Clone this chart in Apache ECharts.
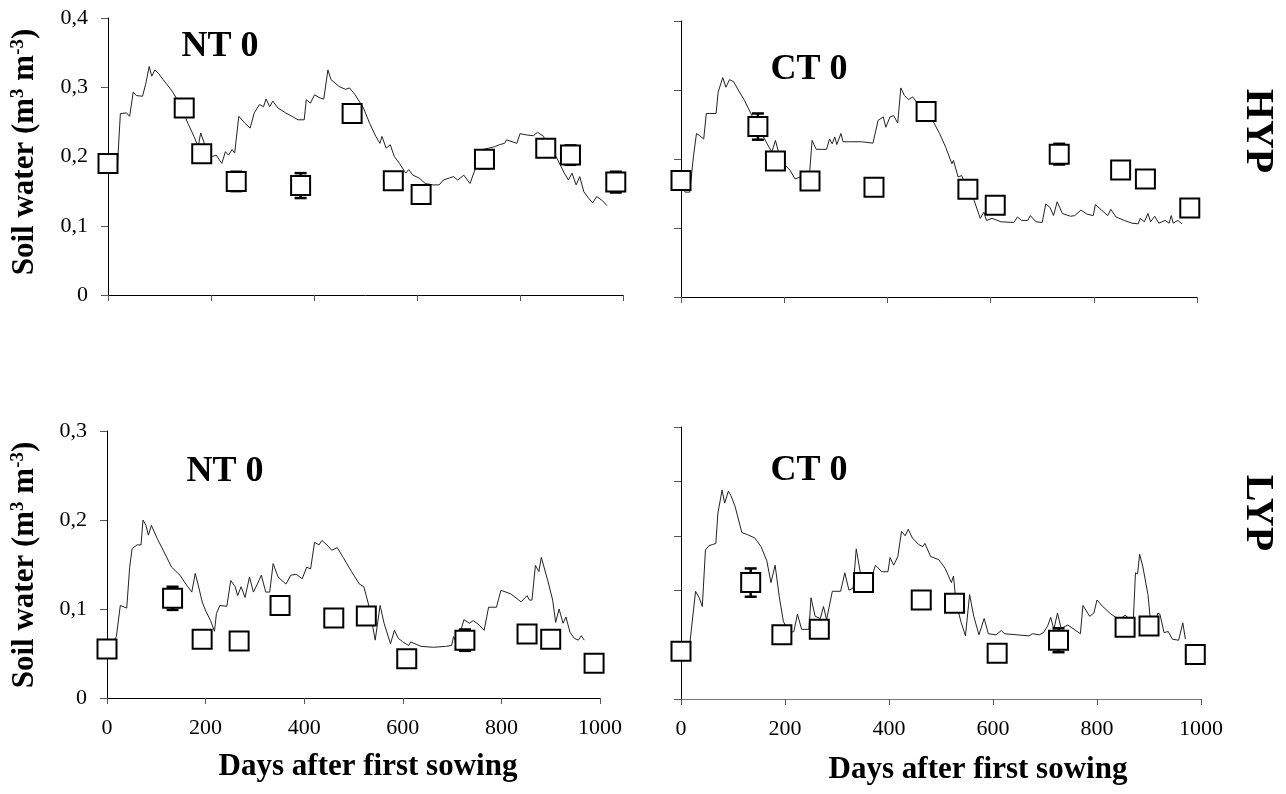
<!DOCTYPE html>
<html>
<head>
<meta charset="utf-8">
<script src="https://cdn.jsdelivr.net/npm/echarts@6/dist/echarts.min.js"></script>
<style>
html,body{margin:0;padding:0;background:#fff;}
#chart{width:1286px;height:794px;}
</style>
</head>
<body>
<div id="chart"></div>
<script>
// ---------- DATA ----------
const xTicks = [0, 200, 400, 600, 800, 1000];

// HYP – NT 0 (top left)
const ntHypObsDays = [0, 148, 182, 249, 374, 474, 554, 608, 731, 850, 898, 986];
const ntHypObsVals = [0.190, 0.270, 0.204, 0.164, 0.158, 0.262, 0.165, 0.145, 0.196, 0.212, 0.202, 0.163];
const ntHypObsErr  = [0, 0, 0, 0.014, 0.018, 0, 0, 0, 0.013, 0, 0.014, 0.015];
const ntHypSim = [[3,0.186],[18,0.183],[24,0.262],[36,0.263],[42,0.258],[49,0.293],[55,0.288],[67,0.287],[73,0.304],[80,0.330],[85,0.316],[91,0.325],[98,0.320],[107,0.311],[123,0.296],[139,0.277],[155,0.248],[167,0.229],[175,0.214],[180,0.234],[187,0.219],[195,0.205],[203,0.200],[210,0.202],[221,0.190],[228,0.207],[234,0.202],[241,0.210],[246,0.205],[254,0.258],[266,0.248],[276,0.241],[284,0.263],[294,0.275],[302,0.272],[307,0.283],[314,0.272],[320,0.280],[330,0.270],[345,0.263],[369,0.253],[381,0.253],[385,0.282],[393,0.277],[401,0.289],[413,0.284],[419,0.283],[427,0.325],[433,0.311],[449,0.301],[461,0.297],[469,0.299],[480,0.289],[496,0.270],[508,0.248],[520,0.229],[528,0.219],[532,0.229],[540,0.212],[548,0.217],[556,0.200],[566,0.190],[578,0.176],[584,0.181],[592,0.173],[604,0.169],[616,0.161],[631,0.159],[643,0.159],[651,0.166],[663,0.169],[671,0.171],[679,0.166],[691,0.173],[703,0.161],[715,0.186],[727,0.210],[739,0.212],[750,0.214],[760,0.217],[770,0.219],[774,0.224],[794,0.219],[800,0.233],[814,0.231],[826,0.230],[834,0.235],[846,0.229],[854,0.210],[870,0.200],[886,0.176],[894,0.166],[901,0.176],[909,0.159],[916,0.171],[924,0.149],[933,0.140],[941,0.133],[949,0.142],[959,0.137],[969,0.129]];

// HYP – CT 0 (top right)
const ctHypObsDays = [0, 149, 183, 250, 374, 475, 556, 609, 733, 852, 900, 986];
const ctHypObsVals = [0.169, 0.247, 0.197, 0.168, 0.159, 0.269, 0.156, 0.133, 0.207, 0.184, 0.171, 0.129];
const ctHypObsErr  = [0, 0.019, 0.012, 0, 0, 0, 0, 0, 0.015, 0, 0, 0];
const ctHypSim = [[2,0.162],[8,0.152],[17,0.152],[24,0.203],[30,0.237],[36,0.234],[44,0.229],[49,0.266],[60,0.266],[68,0.266],[72,0.297],[81,0.318],[87,0.304],[94,0.315],[102,0.312],[111,0.300],[123,0.285],[134,0.268],[151,0.244],[167,0.222],[176,0.210],[183,0.227],[189,0.210],[199,0.193],[211,0.184],[221,0.171],[231,0.174],[242,0.179],[248,0.167],[254,0.227],[262,0.214],[282,0.214],[288,0.229],[293,0.222],[298,0.232],[302,0.221],[310,0.237],[314,0.225],[326,0.225],[350,0.225],[372,0.223],[382,0.256],[392,0.261],[397,0.246],[405,0.261],[412,0.263],[420,0.252],[426,0.303],[433,0.292],[441,0.286],[449,0.290],[461,0.278],[477,0.268],[489,0.254],[501,0.237],[513,0.217],[525,0.193],[528,0.198],[537,0.174],[544,0.176],[556,0.155],[568,0.140],[580,0.114],[587,0.123],[592,0.111],[603,0.114],[620,0.109],[645,0.108],[652,0.116],[660,0.111],[672,0.111],[677,0.118],[688,0.109],[700,0.108],[707,0.135],[715,0.130],[722,0.118],[729,0.138],[739,0.121],[755,0.117],[763,0.118],[775,0.126],[787,0.120],[799,0.118],[803,0.134],[815,0.126],[827,0.118],[833,0.127],[843,0.116],[859,0.111],[874,0.107],[886,0.106],[890,0.114],[898,0.109],[905,0.121],[910,0.109],[918,0.117],[926,0.107],[938,0.111],[946,0.107],[950,0.118],[954,0.107],[963,0.111],[971,0.106]];

// LYP – NT 0 (bottom left)
const ntLypObsDays = [0, 133, 193, 268, 351, 460, 526, 608, 726, 852, 900, 988];
const ntLypObsVals = [0.055, 0.112, 0.066, 0.064, 0.104, 0.090, 0.092, 0.044, 0.065, 0.072, 0.066, 0.039];
const ntLypObsErr  = [0, 0.013, 0, 0, 0, 0, 0, 0, 0.012, 0, 0, 0];
const ntLypSim = [[7,0.059],[19,0.069],[27,0.104],[40,0.101],[46,0.147],[51,0.168],[61,0.172],[69,0.172],[73,0.200],[79,0.194],[84,0.183],[90,0.194],[102,0.179],[114,0.166],[131,0.147],[148,0.138],[160,0.128],[172,0.119],[179,0.140],[185,0.127],[193,0.108],[201,0.097],[210,0.087],[218,0.075],[222,0.095],[229,0.104],[243,0.103],[251,0.132],[260,0.125],[265,0.115],[272,0.125],[280,0.113],[289,0.136],[297,0.119],[305,0.128],[313,0.138],[322,0.119],[330,0.119],[337,0.151],[347,0.136],[363,0.128],[373,0.138],[384,0.139],[396,0.134],[405,0.147],[413,0.145],[421,0.175],[430,0.172],[436,0.177],[446,0.172],[456,0.166],[467,0.169],[479,0.158],[496,0.142],[512,0.128],[521,0.125],[523,0.127],[532,0.102],[544,0.065],[554,0.104],[562,0.084],[575,0.061],[583,0.076],[591,0.067],[600,0.063],[612,0.059],[616,0.063],[637,0.058],[662,0.057],[687,0.058],[699,0.059],[703,0.069],[710,0.061],[724,0.088],[735,0.084],[743,0.087],[755,0.082],[765,0.076],[774,0.102],[790,0.102],[799,0.121],[819,0.117],[840,0.108],[852,0.115],[857,0.110],[862,0.110],[869,0.149],[876,0.142],[881,0.158],[894,0.132],[904,0.110],[910,0.085],[917,0.100],[925,0.084],[931,0.091],[939,0.074],[948,0.067],[956,0.065],[962,0.070],[968,0.065]];

// LYP – CT 0 (bottom right)
const ctLypObsDays = [0, 134, 194, 266, 351, 462, 526, 608, 726, 854, 900, 989];
const ctLypObsVals = [0.044, 0.107, 0.059, 0.064, 0.107, 0.091, 0.088, 0.042, 0.054, 0.066, 0.067, 0.041];
const ctLypObsErr  = [0.004, 0.013, 0, 0, 0, 0.006, 0, 0, 0.011, 0, 0, 0.003];
const ctLypSim = [[8,0.044],[17,0.051],[28,0.099],[35,0.093],[41,0.085],[47,0.137],[54,0.141],[61,0.142],[67,0.143],[71,0.171],[79,0.192],[84,0.180],[91,0.191],[96,0.187],[104,0.177],[117,0.153],[128,0.151],[142,0.148],[154,0.140],[165,0.127],[173,0.107],[181,0.123],[189,0.094],[197,0.071],[209,0.061],[217,0.062],[224,0.078],[232,0.064],[246,0.064],[250,0.093],[258,0.076],[268,0.074],[274,0.085],[280,0.073],[291,0.099],[307,0.099],[315,0.116],[323,0.100],[331,0.102],[337,0.138],[346,0.113],[366,0.111],[374,0.123],[386,0.117],[398,0.117],[402,0.130],[409,0.123],[417,0.131],[424,0.154],[431,0.150],[437,0.156],[445,0.148],[457,0.142],[465,0.140],[469,0.143],[480,0.131],[496,0.128],[508,0.120],[520,0.107],[524,0.113],[529,0.088],[539,0.070],[547,0.058],[555,0.096],[563,0.076],[573,0.059],[583,0.074],[591,0.060],[606,0.059],[616,0.063],[622,0.060],[646,0.059],[669,0.058],[676,0.060],[689,0.059],[697,0.061],[705,0.067],[711,0.075],[717,0.064],[724,0.079],[731,0.065],[740,0.067],[744,0.068],[756,0.064],[768,0.060],[773,0.086],[786,0.076],[794,0.079],[800,0.091],[811,0.085],[827,0.078],[843,0.073],[854,0.077],[862,0.074],[870,0.074],[874,0.116],[878,0.115],[882,0.133],[888,0.122],[898,0.096],[902,0.076],[909,0.064],[917,0.079],[921,0.078],[929,0.061],[937,0.062],[945,0.055],[957,0.054],[965,0.070],[970,0.055]];

// axis settings per panel
const yMaxes = [0.4, 0.4, 0.3, 0.25];
const yIntervals = [0.1, 0.1, 0.1, 0.05];
const panelTitles = ['NT 0', 'CT 0', 'NT 0', 'CT 0'];
const siteLabels = ['HYP', 'LYP'];
const xTitle = 'Days after first sowing';

// ---------- BUILD ----------
const SERIF = '"Liberation Serif", "Times New Roman", serif';
const panels = [
  {sim: ntHypSim, d: ntHypObsDays, v: ntHypObsVals, e: ntHypObsErr, grid: {left:108, top:18, width:515, height:277}, yLabels:true, xLabels:false, xLineColor:'#000'},
  {sim: ctHypSim, d: ctHypObsDays, v: ctHypObsVals, e: ctHypObsErr, grid: {left:681, top:21, width:516, height:276}, yLabels:false, xLabels:false, xLineColor:'#000'},
  {sim: ntLypSim, d: ntLypObsDays, v: ntLypObsVals, e: ntLypObsErr, grid: {left:107, top:431, width:493, height:267}, yLabels:true, xLabels:true, xLineColor:'#000'},
  {sim: ctLypSim, d: ctLypObsDays, v: ctLypObsVals, e: ctLypObsErr, grid: {left:681, top:427, width:520, height:272}, yLabels:false, xLabels:true, xLineColor:'#777'}
];

function fmtY(v){ return v === 0 ? '0' : (Math.round(v*100)/100).toFixed(1).replace('.', ','); }
function fmtX(v){ return String(Math.round(v)); }

const grids = [], xAxes = [], yAxes = [], series = [];
panels.forEach((p, i) => {
  grids.push(Object.assign({containLabel:false}, p.grid));
  const xBase = {gridIndex:i, type:'value', min:xTicks[0], max:xTicks[xTicks.length-1], interval:xTicks[1]-xTicks[0], splitLine:{show:false}};
  xAxes.push(Object.assign({}, xBase, {
    axisLine:{show:true, lineStyle:{color:p.xLineColor, width:1}},
    axisTick:{show:true, length:6, lineStyle:{color:'#555'}},
    axisLabel:{show:p.xLabels, margin:19, fontSize:22, color:'#000', fontFamily:SERIF, formatter:fmtX}
  }));
  xAxes.push(Object.assign({}, xBase, {
    axisLine:{show:false}, axisTick:{show:true, inside:true, length:6, lineStyle:{color:'#555'}}, axisLabel:{show:false}
  }));
  const yBase = {gridIndex:i, type:'value', min:0, max:yMaxes[i], interval:yIntervals[i], splitLine:{show:false}};
  yAxes.push(Object.assign({}, yBase, {
    axisLine:{show:true, lineStyle:{color:'#000', width:1}},
    axisTick:{show:true, length:7, lineStyle:{color:'#555'}},
    axisLabel:{show:p.yLabels, margin:20, fontSize:22, color:'#000', fontFamily:SERIF, formatter:fmtY}
  }));
  yAxes.push(Object.assign({}, yBase, {
    axisLine:{show:false}, axisTick:{show:true, inside:true, length:7, lineStyle:{color:'#555'}}, axisLabel:{show:false}
  }));
  series.push({
    type:'line', xAxisIndex:2*i, yAxisIndex:2*i, data:p.sim, showSymbol:false, symbol:'none',
    lineStyle:{color:'#222', width:1}, z:2, animation:false, silent:true
  });
  const errData = [];
  p.d.forEach((day, k) => { if (p.e[k] > 0) errData.push([day, p.v[k]-p.e[k], p.v[k]+p.e[k]]); });
  series.push({
    type:'custom', xAxisIndex:2*i, yAxisIndex:2*i, data:errData, z:3, animation:false, silent:true,
    renderItem:function(params, api){
      const lo = api.coord([api.value(0), api.value(1)]);
      const hi = api.coord([api.value(0), api.value(2)]);
      const w = 6;
      const st = {stroke:'#000', lineWidth:2.5};
      return {type:'group', children:[
        {type:'line', shape:{x1:lo[0], y1:lo[1], x2:hi[0], y2:hi[1]}, style:st},
        {type:'line', shape:{x1:lo[0]-w, y1:lo[1], x2:lo[0]+w, y2:lo[1]}, style:st},
        {type:'line', shape:{x1:hi[0]-w, y1:hi[1], x2:hi[0]+w, y2:hi[1]}, style:st}
      ]};
    }
  });
  series.push({
    type:'scatter', xAxisIndex:2*i, yAxisIndex:2*i, data:p.d.map((day,k)=>[day, p.v[k]]),
    symbol:'rect', symbolSize:19, itemStyle:{color:'#fff', borderColor:'#000', borderWidth:2, opacity:1},
    z:4, animation:false, silent:true
  });
});

function txt(x, y, text, size, rot){
  return {type:'text', x:x, y:y, rotation:rot||0, silent:true,
    style:{text:text, fontSize:size, fontWeight:'bold', fontFamily:SERIF, fill:'#000', align:'center', verticalAlign:'middle'}};
}
function yTitle(x, y){
  return {type:'text', x:x, y:y, rotation:Math.PI/2, silent:true,
    style:{text:'{a|Soil water (m}{s|3}{a| m}{s|-3}{a|)}', fill:'#000', align:'center', verticalAlign:'middle',
      rich:{
        a:{fontSize:31, fontWeight:'bold', fontFamily:SERIF, fill:'#000', lineHeight:33},
        s:{fontSize:19, fontWeight:'bold', fontFamily:SERIF, fill:'#000', lineHeight:21, verticalAlign:'top'}
      }}};
}

const graphics = [
  txt(220, 47, panelTitles[0], 36),
  txt(809, 70, panelTitles[1], 36),
  txt(225, 472, panelTitles[2], 36),
  txt(809, 471, panelTitles[3], 36),
  txt(1257, 131, siteLabels[0], 40, -Math.PI/2),
  txt(1257, 513, siteLabels[1], 40, -Math.PI/2),
  txt(368, 767, xTitle, 31),
  txt(978, 770, xTitle, 31),
  yTitle(25, 152),
  yTitle(25, 565)
];

const chart = echarts.init(document.getElementById('chart'), null, {renderer:'canvas'});
chart.setOption({
  animation:false,
  backgroundColor:'#fff',
  grid:grids, xAxis:xAxes, yAxis:yAxes, series:series, graphic:graphics
});
</script>
</body>
</html>
